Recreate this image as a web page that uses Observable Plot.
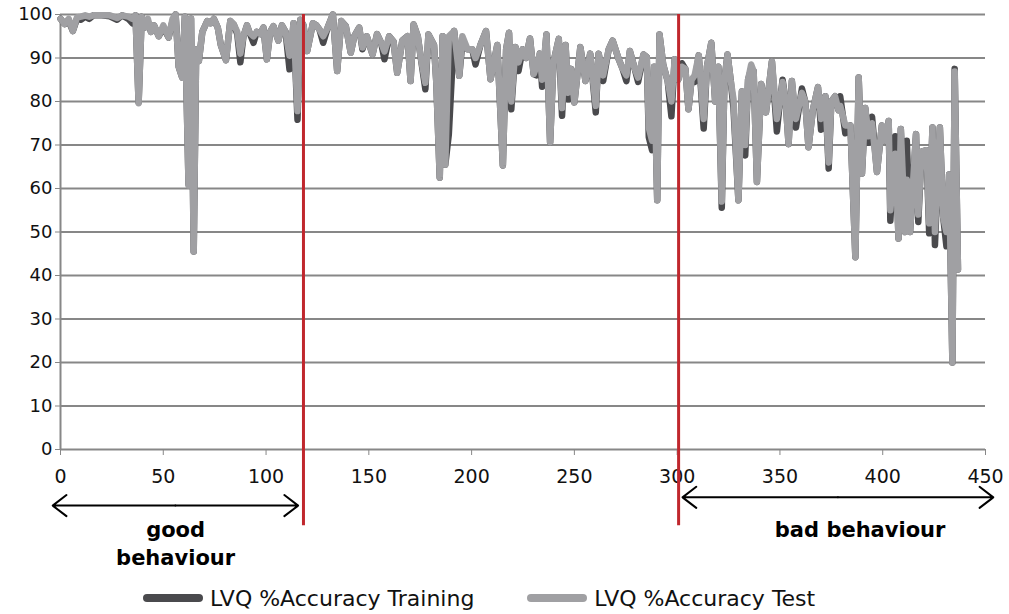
<!DOCTYPE html>
<html>
<head>
<meta charset="utf-8">
<script src="https://cdn.jsdelivr.net/npm/d3@7"></script>
<script src="https://cdn.jsdelivr.net/npm/@observablehq/plot@0.6"></script>
<style>
  body { margin: 0; background: #fff; font-family: "DejaVu Sans", sans-serif; }
  #legend { height: 36px; display: flex; align-items: center; padding-left: 143px; font-size: 22px; color: #111; margin-top: 2px; }
  .item { display: flex; align-items: center; }
  .sw { width: 60px; height: 8px; border-radius: 4px; margin-right: 7px; }
</style>
</head>
<body>
<div id="chart"></div>
<div id="legend"></div>
<script>
const epoch = [0,2,4,6,8,10,12,14,16,20,24,27.5,30,33,35,36.5,38,39.5,41,42.5,44,45.5,47.8,50,52.6,54.5,56,57.5,59.2,60.5,62.3,63.5,64.8,66,67.3,69,71.4,73,74.6,76.5,78,80.5,82.6,84.3,86,87.5,89,90.7,92,93.9,95.5,97.2,98.7,100.4,102,103.6,106,107.7,109.5,111.4,113.4,115.3,116.7,118.2,120,122.8,124.5,126,127.8,130,132.5,134.6,136.6,138.8,141.2,142.9,145.3,146.9,149,151.8,154,156,157.6,159.9,162,163.8,166.3,168.8,170.3,171.8,173.8,175.3,177.5,179,181.7,182.8,184.5,185.9,187.2,188.9,191.5,194,195.5,198,200.3,201.9,204.3,207,209.2,212.5,215.2,216.8,218.2,219.3,221.4,222.8,224.8,226.5,228.4,230.2,231.5,233.2,234.3,236.4,238.2,239.8,242.4,244,245.7,247,248.4,250,252.9,255.4,257.7,260.4,261.8,264,266.7,268.6,271.5,273.4,275.3,277,279.3,281,283.6,285.2,286.2,287.8,288.8,290.3,291.4,293.2,295.4,297.2,298.8,300.5,302.3,304,305.5,307,308.5,310.5,312.9,314.5,316.6,318.5,320,321.7,323,324.5,326,327.4,329.8,331.5,333.1,334.5,336,337.2,338.8,340.9,343.2,346.1,348.5,350,351.3,352.8,354.2,355.8,357.8,360.7,362.3,363.9,366,368.5,370,372.1,373.7,375,376.8,378.5,379.3,381.8,384.3,386.7,388.3,389.9,391.5,393.2,394.8,397.2,399.6,401.5,402.9,403.7,406.1,407.7,408.8,410.9,411.7,413.3,416.2,417.3,418.9,421.3,422.6,424.2,425.4,427.8,429.4,431,432.3,433.9,435,436.6];

const testAcc = [99,97.8,99,96.2,99.3,99.5,99.8,99.5,99.8,99.8,99.8,99.2,99.8,99.5,99,99.8,79.6,99.5,97,99,96,97.5,95,97.5,94.7,99,100,88,85.5,99.5,60.7,99,45.5,92,89.3,96,98.5,98,99,97,93,89.5,98.5,97.7,96,91,95,97.5,95.8,95,96,95.5,97,89.7,96,97.3,94,97.5,96,90.5,98,77.8,98.8,97.5,91.6,98,97.5,96.5,95,97,100,87,98.5,97.3,91.2,95,97,92.4,95,90.8,95.5,93.5,91.5,95,93.8,86.6,94,95,84.7,97.7,95,90,84.3,95.4,93,84.7,62.5,95,65.5,95,96.2,85.9,95,92,92,90,93,96.2,85.1,93,65.3,92,95.8,80,92.5,89,92,90,94.5,86.3,88,91,85,95.4,70.6,89,94.4,78.5,93,82,87.5,79.8,92.5,84.7,91,79,91,86,92,94,89.8,87.6,86,91.6,87.6,85.5,90.8,90.2,74,71,88,57.3,95.4,88.5,84.7,80,89.7,85,88,87.5,78.2,85,86,90.6,76,88,93.5,80,88,57,85,90.8,85,80.5,57.3,82.3,70,85,88.5,87,61.5,84,77.5,89.2,76,80,84.5,80,70.2,84.7,76,82,80,69.5,78,83.3,76,81.2,66,80,81.2,78,79,74.5,74.5,44.2,85.5,63.4,78.5,72,75,63.8,74.5,71,75.5,55,68,48.5,73.7,50,62,50,72.5,54,68.5,68.8,52,74,50,74,53.5,50,63.2,20,86.9,41.4];

const trainAcc = [99,97.8,98.5,96.2,99,98.8,99.5,99,99.8,99.8,99.6,98.8,99.8,99,98,99.8,79.8,99.5,97,98.5,96,97.5,95,97,94.7,98.5,100,88,85.5,99.5,61,99,45.5,92,89.3,96,98.5,98,99,97,93,89.5,98.5,97.7,95.5,89,95,97.5,95.8,93.5,96,95.5,97,89.7,96,97.3,94,97.5,96,87.4,98,75.8,98.8,97.5,91.6,98,97.5,96.5,93.5,97,100,87,98.5,97.3,91.2,95,97,92,95,90.8,95.5,93.5,89.7,95,93.8,86.6,94,95,84.7,97.7,95,90,82.8,95.4,93,84.7,62.5,95,65.5,72.4,96.2,85.9,93.5,92,92,88.5,93,96.2,85.1,93,65.3,92,95.8,78.2,92.5,87,92,90,94.5,86.3,86,91,83.4,95.4,70.6,89,94.4,76.7,93,80.5,87.5,79.8,92.5,84.7,91,77.5,91,84.7,92,94,89.8,87.6,84.7,91.6,87.6,84.5,90.8,90.2,71.8,68.8,88,57.3,95.4,88.5,84.7,76.6,89.7,85,88.8,87.5,78.2,85,84.5,90.6,73.8,88,93.5,80,88,55.6,85,90.8,85,78.5,57.3,82.3,67.6,85,87.5,87,61.5,84,77.5,89.2,73.1,80,85,80,70.2,84.7,74,83,80,69.5,78,83.3,73.5,81.2,64.6,80,81.2,78,81.2,72.7,74.5,44.2,85.5,63.4,78.5,70.5,76.5,63.8,74.5,71,75.5,52.6,72,48.5,73.7,50,71,50,72.5,52.3,68.5,68.8,49.7,74,47,74,53.5,46.7,63.2,20,87.5,41.4];

const yTicks = d3.range(0, 101, 10);
const xTicks = d3.range(0, 451, 50);
const boundaries = [118.2, 300.7];
const spans = [
  {from: -3.8, to: 115.6, level: -12.9},
  {from: 302.6, to: 453.8, level: -11}
];
const labels = [
  {x: 56, y: -18.6, text: "good"},
  {x: 56, y: -25, text: "behaviour"},
  {x: 389, y: -18.6, text: "bad behaviour"}
];
const seriesNames = ["LVQ %Accuracy Training", "LVQ %Accuracy Test"];
const colors = {train: "#4a4a4d", test: "#a0a0a3", grid: "#878787", red: "#c0272d"};

const rows = epoch.map((e, i) => ({epoch: e, train: trainAcc[i], test: testAcc[i]}));
// each double-headed arrow = two arrows from the middle outward
const halfArrows = spans.flatMap(s => {
  const mid = (s.from + s.to) / 2;
  return [{x1: mid, x2: s.from, y: s.level}, {x1: mid, x2: s.to, y: s.level}];
});

const chart = Plot.plot({
  width: 1009,
  height: 578,
  marginLeft: 60,
  marginRight: 24,
  marginTop: 14,
  marginBottom: 129,
  style: {fontFamily: "DejaVu Sans, sans-serif", fontSize: "18px", color: "#111", background: "#fff"},
  x: {domain: [0, 450], ticks: xTicks, label: null},
  y: {domain: [0, 100], ticks: yTicks, label: null},
  marks: [
    Plot.gridY(yTicks.filter(d => d > 0), {stroke: colors.grid, strokeOpacity: 1, strokeWidth: 2}),
    Plot.ruleY([0], {stroke: colors.grid, strokeWidth: 2}),
    Plot.ruleX([0], {stroke: colors.grid, strokeWidth: 2}),
    Plot.axisY({ticks: yTicks, tickSize: 5, tickPadding: 3, stroke: colors.grid, fontSize: 18, label: null}),
    Plot.axisX({ticks: xTicks, tickSize: 6, tickPadding: 14, stroke: colors.grid, fontSize: 19, label: null}),
    Plot.line(rows, {x: "epoch", y: "train", stroke: colors.train, strokeWidth: 6.5, strokeLinejoin: "round", strokeLinecap: "round"}),
    Plot.line(rows, {x: "epoch", y: "test", stroke: colors.test, strokeWidth: 6.5, strokeLinejoin: "round", strokeLinecap: "round"}),
    Plot.ruleX(boundaries, {y1: 100, y2: -17.5, stroke: colors.red, strokeWidth: 3}),
    Plot.arrow(halfArrows, {x1: "x1", x2: "x2", y1: "y", y2: "y", stroke: "#000", strokeWidth: 2, headLength: 13, headAngle: 75}),
    Plot.text(labels, {x: "x", y: "y", text: "text", fontSize: 21, fontWeight: "bold", fill: "#000", fontFamily: "DejaVu Sans"})
  ]
});
document.getElementById("chart").appendChild(chart);

const legend = document.getElementById("legend");
const legendColors = [colors.train, colors.test];
seriesNames.forEach((name, i) => {
  const item = document.createElement("div");
  item.className = "item";
  if (i > 0) item.style.marginLeft = "53px";
  const sw = document.createElement("div");
  sw.className = "sw";
  sw.style.background = legendColors[i];
  const t = document.createElement("span");
  t.textContent = name;
  item.appendChild(sw);
  item.appendChild(t);
  legend.appendChild(item);
});
</script>
</body>
</html>
